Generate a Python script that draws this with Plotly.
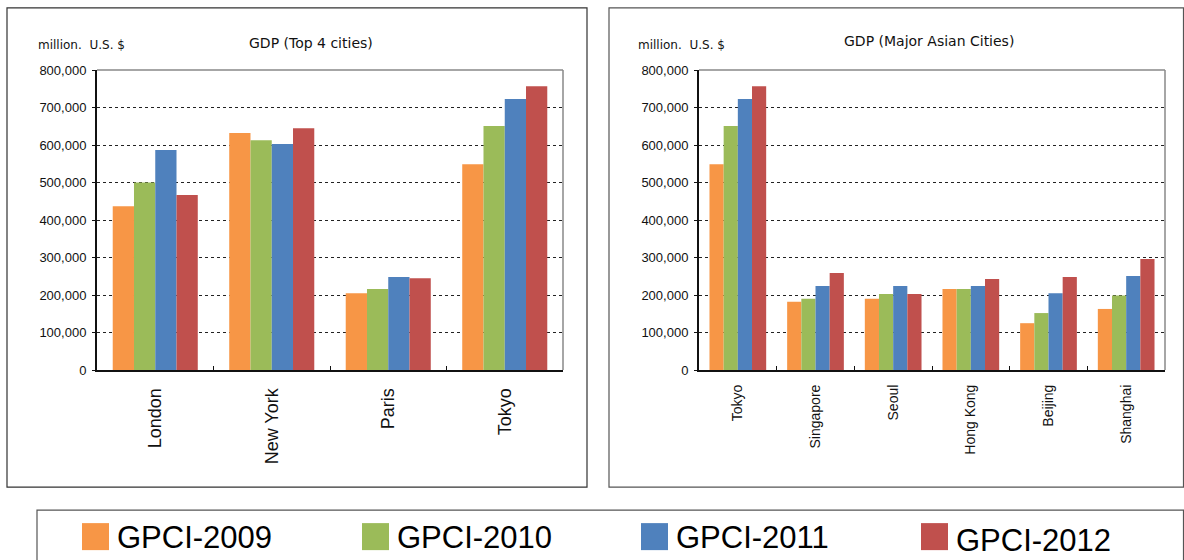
import plotly.graph_objects as go

W, H = 1184, 560

series_names = ["GPCI-2009", "GPCI-2010", "GPCI-2011", "GPCI-2012"]
series_colors = ["#F79646", "#9BBB59", "#4F81BD", "#C0504D"]

top4_cities = ["London", "New York", "Paris", "Tokyo"]
top4_2009 = [437000, 632000, 205000, 549000]
top4_2010 = [500000, 613000, 216000, 651000]
top4_2011 = [587000, 603000, 248000, 723000]
top4_2012 = [467000, 645000, 245000, 757000]

asia_cities = ["Tokyo", "Singapore", "Seoul", "Hong Kong", "Beijing", "Shanghai"]
asia_2009 = [549000, 182000, 190000, 216000, 125000, 163000]
asia_2010 = [651000, 190000, 203000, 216000, 152000, 199000]
asia_2011 = [723000, 224000, 224000, 224000, 205000, 251000]
asia_2012 = [757000, 259000, 203000, 243000, 248000, 296000]

y_ticks = [0, 100000, 200000, 300000, 400000, 500000, 600000, 700000, 800000]
y_tick_text = ["0", "100,000", "200,000", "300,000", "400,000", "500,000", "600,000", "700,000", "800,000"]

left_title = "GDP (Top 4 cities)"
right_title = "GDP (Major Asian Cities)"
unit_label = "million.\u00a0\u00a0U.S. $"

FONT = "Liberation Sans, Arial, sans-serif"
TFONT = "DejaVu Sans, Verdana, sans-serif"

# vertical correction for the capture pipeline (measured: out_y = 0.973 * page_y + 6)
VS, VO = 0.973, 6.0


def px(x):
    return x / W


def py(y):
    yp = (y - VO) / VS
    return 1 - yp / H


fig = go.Figure()

top4_vals = [top4_2009, top4_2010, top4_2011, top4_2012]
asia_vals = [asia_2009, asia_2010, asia_2011, asia_2012]
for name, color, vals in zip(series_names, series_colors, top4_vals):
    fig.add_trace(go.Bar(x=top4_cities, y=vals, name=name, marker_color=color,
                         marker_line_width=0, xaxis="x", yaxis="y", showlegend=False))
for name, color, vals in zip(series_names, series_colors, asia_vals):
    fig.add_trace(go.Bar(x=asia_cities, y=vals, name=name, marker_color=color,
                         marker_line_width=0, xaxis="x2", yaxis="y2", showlegend=False))

yaxis_common = dict(
    range=[0, 800000], tickvals=y_ticks, ticktext=y_tick_text,
    showgrid=True, gridcolor="#222", griddash="dot", gridwidth=1,
    showline=True, linecolor="#111", linewidth=2,
    ticks="outside", ticklen=3, tickcolor="#111", ticklabelstandoff=3,
    tickfont=dict(family=FONT, size=13, color="#111"),
    zeroline=False, fixedrange=True,
)
xaxis_common = dict(
    showline=True, linecolor="#111", linewidth=2,
    ticks="inside", tickson="boundaries", ticklen=4, tickcolor="#111",
    tickangle=-90, showgrid=False, fixedrange=True,
)

fig.update_layout(
    width=W, height=H,
    margin=dict(l=0, r=0, t=0, b=0),
    paper_bgcolor="white", plot_bgcolor="white",
    barmode="group", bargap=0.27, bargroupgap=0,
    xaxis=dict(domain=[px(97), px(563)], anchor="y", ticklabelstandoff=9,
               tickfont=dict(family=FONT, size=18, color="#111"), **xaxis_common),
    yaxis=dict(domain=[py(369), py(69)], anchor="x", **yaxis_common),
    xaxis2=dict(domain=[px(699), px(1165)], anchor="y2", ticklabelstandoff=7,
                tickfont=dict(family=FONT, size=14, color="#111"), **xaxis_common),
    yaxis2=dict(domain=[py(369), py(69)], anchor="x2", **yaxis_common),
)

shapes = []
# outer frames
shapes.append(dict(type="rect", xref="paper", yref="paper", x0=px(7), x1=px(587), y0=py(486), y1=py(6.8),
                   line=dict(color="#333", width=1.2), fillcolor="rgba(0,0,0,0)", layer="below"))
shapes.append(dict(type="rect", xref="paper", yref="paper", x0=px(609), x1=px(1183.5), y0=py(486), y1=py(6.8),
                   line=dict(color="#555", width=1.2), fillcolor="rgba(0,0,0,0)", layer="below"))
shapes.append(dict(type="rect", xref="paper", yref="paper", x0=px(37), x1=px(1183.5), y0=py(575), y1=py(509),
                   line=dict(color="#555", width=1.2), fillcolor="rgba(0,0,0,0)", layer="below"))
# plot area top/right borders (gray)
for x0, x1 in [(97, 563), (699, 1165)]:
    shapes.append(dict(type="line", xref="paper", yref="paper", x0=px(x0), x1=px(x1), y0=py(69), y1=py(69),
                       line=dict(color="#888", width=1.5)))
    shapes.append(dict(type="line", xref="paper", yref="paper", x0=px(x1), x1=px(x1), y0=py(69), y1=py(369),
                       line=dict(color="#888", width=1.5)))

annotations = [
    dict(text=left_title, x=px(311), y=py(42), xref="paper", yref="paper", showarrow=False,
         xanchor="center", yanchor="middle", font=dict(family=TFONT, size=14, color="#111")),
    dict(text=unit_label, x=px(36), y=py(44), xref="paper", yref="paper", showarrow=False,
         xanchor="left", yanchor="middle", font=dict(family=TFONT, size=12, color="#111")),
    dict(text=right_title, x=px(929), y=py(40), xref="paper", yref="paper", showarrow=False,
         xanchor="center", yanchor="middle", font=dict(family=TFONT, size=14, color="#111")),
    dict(text=unit_label, x=px(636), y=py(44), xref="paper", yref="paper", showarrow=False,
         xanchor="left", yanchor="middle", font=dict(family=TFONT, size=12, color="#111")),
]

# manual legend
legend_swatch_x = [82, 362, 641, 921]
legend_text_y = [536, 536, 536, 539]
for name, color, sx, ty in zip(series_names, series_colors, legend_swatch_x, legend_text_y):
    shapes.append(dict(type="rect", xref="paper", yref="paper", x0=px(sx), x1=px(sx + 27),
                       y0=py(549), y1=py(522), fillcolor=color, line=dict(width=0)))
    annotations.append(dict(text=name, x=px(sx + 33), y=py(ty), xref="paper", yref="paper",
                            showarrow=False, xanchor="left", yanchor="middle",
                            font=dict(family=FONT, size=31, color="#000")))

fig.update_layout(shapes=shapes, annotations=annotations)

post = (
    "document.documentElement.style.margin='0';"
    "document.documentElement.style.overflow='hidden';"
    "document.body.style.margin='0';"
    "document.body.style.overflow='hidden';"
    "var gd=document.getElementById('{plot_id}');"
    "gd.style.position='fixed';gd.style.left='0px';gd.style.top='0px';"
)
fig.write_html("out.html", post_script=post, config={"displayModeBar": False})
